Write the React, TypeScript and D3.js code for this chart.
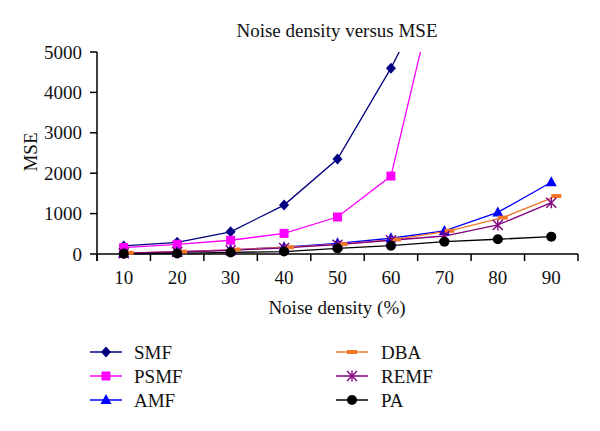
import React from "react";
import * as d3 from "d3";

const categories = [10, 20, 30, 40, 50, 60, 70, 80, 90];
const smf = [200, 290, 550, 1210, 2350, 4600, 7200, 10000, 13000];
const psmf = [160, 240, 340, 510, 915, 1930, 7500, 11000, 15000];
const amf = [20, 50, 100, 170, 265, 390, 570, 1030, 1775];
const dba = [30, 60, 110, 170, 245, 360, 575, 900, 1435];
const remf = [20, 50, 90, 150, 230, 340, 445, 720, 1270];
const pa = [5, 15, 40, 60, 140, 205, 305, 365, 430];
const yTicks = [0, 1000, 2000, 3000, 4000, 5000];

type Series = { name: string; values: number[]; color: string; marker: string; dx: number };
const series: Series[] = [
  { name: "SMF", values: smf, color: "#000080", marker: "diamond", dx: 0 },
  { name: "PSMF", values: psmf, color: "#ff00ff", marker: "square", dx: 0 },
  { name: "AMF", values: amf, color: "#0000ff", marker: "triangle", dx: 0 },
  { name: "DBA", values: dba, color: "#f07828", marker: "dash", dx: 5 },
  { name: "REMF", values: remf, color: "#800080", marker: "star", dx: 0 },
  { name: "PA", values: pa, color: "#000000", marker: "circle", dx: 0 },
];

const FONT = "'Liberation Serif', 'Times New Roman', serif";
const FS = 19;

function Marker({ type, x, y, color }: { type: string; x: number; y: number; color: string }) {
  switch (type) {
    case "diamond":
      return <path d={`M${x},${y - 5.5}L${x + 5},${y}L${x},${y + 5.5}L${x - 5},${y}Z`} fill={color} />;
    case "square":
      return <rect x={x - 4.5} y={y - 4.5} width={9} height={9} fill={color} />;
    case "triangle":
      return <path d={`M${x},${y - 6}L${x + 5.5},${y + 4}L${x - 5.5},${y + 4}Z`} fill={color} />;
    case "dash":
      return <rect x={x - 5} y={y - 2} width={10} height={4} fill={color} />;
    case "star":
      return (
        <g stroke={color} strokeWidth={1.4}>
          <line x1={x - 5} y1={y - 5} x2={x + 5} y2={y + 5} />
          <line x1={x - 5} y1={y + 5} x2={x + 5} y2={y - 5} />
          <line x1={x} y1={y - 5.5} x2={x} y2={y + 5.5} />
        </g>
      );
    case "circle":
      return <circle cx={x} cy={y} r={5} fill={color} />;
    default:
      return null;
  }
}

export default function App() {
  const width = 600;
  const height = 431;
  const left = 97;
  const right = 578;
  const top = 52;
  const bottom = 254;

  const x = d3.scaleBand<number>().domain(categories).range([left, right]);
  const y = d3.scaleLinear().domain([0, 5000]).range([bottom, top]);
  const cx = (c: number) => (x(c) as number) + x.bandwidth() / 2;

  const line = (s: Series) =>
    d3
      .line<number>()
      .x((_, i) => cx(categories[i]) + s.dx)
      .y((v) => y(v))(s.values) as string;

  const boundaries = categories.map((c) => x(c) as number).concat([right]);

  const legendCols = [
    { lineX: 90, textX: 134 },
    { lineX: 336, textX: 381 },
  ];
  const legendRows = [352, 376, 400];

  return (
    <svg
      width={width}
      height={height}
      style={{ position: "absolute", left: 0, top: 0, background: "#fff" }}
      fontFamily={FONT}
    >
      <defs>
        <clipPath id="plot">
          <rect x={left} y={top} width={right - left + 20} height={bottom - top + 10} />
        </clipPath>
      </defs>
      <rect width={width} height={height} fill="#fff" />
      <text x={337} y={37} textAnchor="middle" fontSize={FS} fill="#111">
        Noise density versus MSE
      </text>

      {/* axes */}
      <line x1={left} y1={top} x2={left} y2={bottom + 7} stroke="#000" strokeWidth={1.5} />
      <line x1={left} y1={bottom} x2={right} y2={bottom} stroke="#000" strokeWidth={1.5} />
      {yTicks.map((t) => (
        <g key={t}>
          <line x1={left - 7} x2={left} y1={y(t)} y2={y(t)} stroke="#000" strokeWidth={1.5} />
          <text x={82} y={y(t)} dy="0.35em" textAnchor="end" fontSize={FS} fill="#111">
            {t}
          </text>
        </g>
      ))}
      {boundaries.map((b, i) => (
        <line key={i} x1={b} x2={b} y1={bottom} y2={bottom + 7} stroke="#000" strokeWidth={1.5} />
      ))}
      {categories.map((c) => (
        <text key={c} x={cx(c)} y={284} textAnchor="middle" fontSize={FS} fill="#111">
          {c}
        </text>
      ))}
      <text x={337} y={314} textAnchor="middle" fontSize={FS} fill="#111">
        Noise density (%)
      </text>
      <text
        transform={`translate(37,152) rotate(-90)`}
        textAnchor="middle"
        fontSize={FS}
        fill="#111"
      >
        MSE
      </text>

      {/* series */}
      <g clipPath="url(#plot)">
        {series.map((s) => (
          <path key={s.name} d={line(s)} fill="none" stroke={s.color} strokeWidth={1.3} />
        ))}
      </g>
      {series.map((s) => (
        <g key={s.name + "m"}>
          {s.values.map((v, i) =>
            v <= 5000 ? (
              <Marker key={i} type={s.marker} x={cx(categories[i]) + s.dx} y={y(v)} color={s.color} />
            ) : null
          )}
        </g>
      ))}

      {/* legend */}
      {series.map((s, i) => {
        const col = legendCols[Math.floor(i / 3)];
        const ry = legendRows[i % 3];
        return (
          <g key={s.name + "l"}>
            <line x1={col.lineX} x2={col.lineX + 32} y1={ry} y2={ry} stroke={s.color} strokeWidth={1.5} />
            <Marker type={s.marker} x={col.lineX + 16} y={ry} color={s.color} />
            <text x={col.textX} y={ry} dy="0.35em" fontSize={FS} fill="#111">
              {s.name}
            </text>
          </g>
        );
      })}
    </svg>
  );
}
